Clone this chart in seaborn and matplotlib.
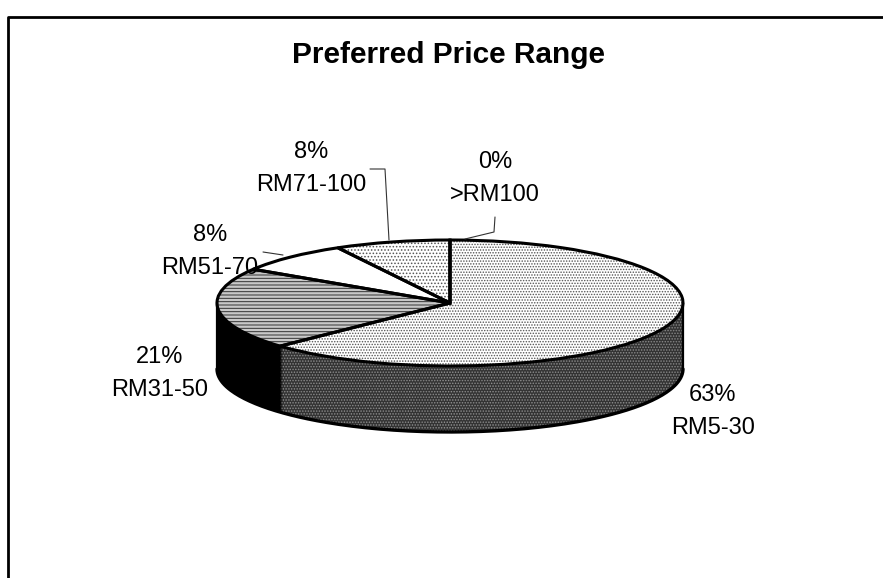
import numpy as np
import matplotlib
matplotlib.use("Agg")
import matplotlib.pyplot as plt
import seaborn as sns

# values, clockwise from 12 o'clock
categories = ["RM5-30", "RM31-50", "RM51-70", "RM71-100", ">RM100"]
percents = [63, 21, 8, 8, 0]

top_faces = ["#ffffff", "#c8c8c8", "#ffffff", "#ffffff", "#ffffff"]
top_hatch_colors = ["#555555", "#333333", "#ffffff", "#555555", "#555555"]
top_hatches = ["......", "-----", "", ".....", "....."]
wall_faces = ["#333333", "#000000", "#ffffff", "#ffffff", "#ffffff"]
wall_hatch_colors = ["#999999", "#000000", "#ffffff", "#ffffff", "#ffffff"]

W, H = 883, 578
CX, CY = 450, 303
RX, RY = 233, 63
DEPTH = 66

sns.set_theme(style="white")
plt.rcParams["font.family"] = ["Liberation Sans", "DejaVu Sans"]
plt.rcParams["hatch.linewidth"] = 0.7


def px(x, y):
    # picture pixels to pie units
    return (x - CX) / RX, (CY - y) / RY


fig = plt.figure(figsize=(W / 100, H / 100), dpi=100)
fig.patch.set_facecolor("white")
ax = fig.add_axes([0, 0, 1, 1])

# side wall, stacked from the bottom up
for off in np.arange(DEPTH, 0, -1):
    wedges, _ = ax.pie(percents, startangle=90, counterclock=False, radius=1,
                       center=(0, -off / RY), normalize=True,
                       wedgeprops=dict(linewidth=0))
    for w, fc, hc in zip(wedges, wall_faces, wall_hatch_colors):
        w.set_facecolor(fc)
        w.set_edgecolor(hc)
        w.set_hatch("......")

# outline of the wall
theta = np.linspace(np.pi, 2 * np.pi, 200)
ax.plot(np.cos(theta), np.sin(theta) - DEPTH / RY, color="black", lw=2.4)
ax.plot([1, 1], [0, -DEPTH / RY], color="black", lw=1.6)
ax.plot([-1, -1], [0, -DEPTH / RY], color="black", lw=1.6)

# top face, fill then outline
wedges, _ = ax.pie(percents, startangle=90, counterclock=False, radius=1,
                   normalize=True, wedgeprops=dict(linewidth=0))
for w, fc, hc, h in zip(wedges, top_faces, top_hatch_colors, top_hatches):
    w.set_facecolor(fc)
    w.set_edgecolor(hc)
    w.set_hatch(h)
ax.pie(percents, startangle=90, counterclock=False, radius=1, normalize=True,
       wedgeprops=dict(linewidth=2.2, edgecolor="black", facecolor="none"))

ax.set_aspect("auto")
ax.set_xlim(-CX / RX, (W - CX) / RX)
ax.set_ylim((CY - H) / RY, CY / RY)

# leader lines
leaders = [
    [(370, 169), (385, 169), (389, 240)],
    [(495, 217), (494, 232), (465, 239)],
    [(263, 252), (283, 255)],
]
for pts in leaders:
    xs, ys = zip(*[px(*p) for p in pts])
    ax.plot(xs, ys, color="#333333", lw=0.8)

# labels
label_pos = [(713, 395), (160, 357), (210, 235), (311, 152), (495, 162)]
for cat, pct, (x, y) in zip(categories, percents, label_pos):
    ax.text(*px(x, y), f"{pct}%", fontsize=17, color="black", ha="center", va="center")
    ax.text(*px(x, y + 33), cat, fontsize=17, color="black", ha="center", va="center")

ax.text(*px(449, 55), "Preferred Price Range", fontsize=21.5, fontweight="bold",
        color="black", ha="center", va="center")

# chart border, only left and top show in the scan
ax.plot(*zip(px(8, H), px(8, 17), px(W, 17)), color="black", lw=2)

fig.savefig("out.png", dpi=100)
